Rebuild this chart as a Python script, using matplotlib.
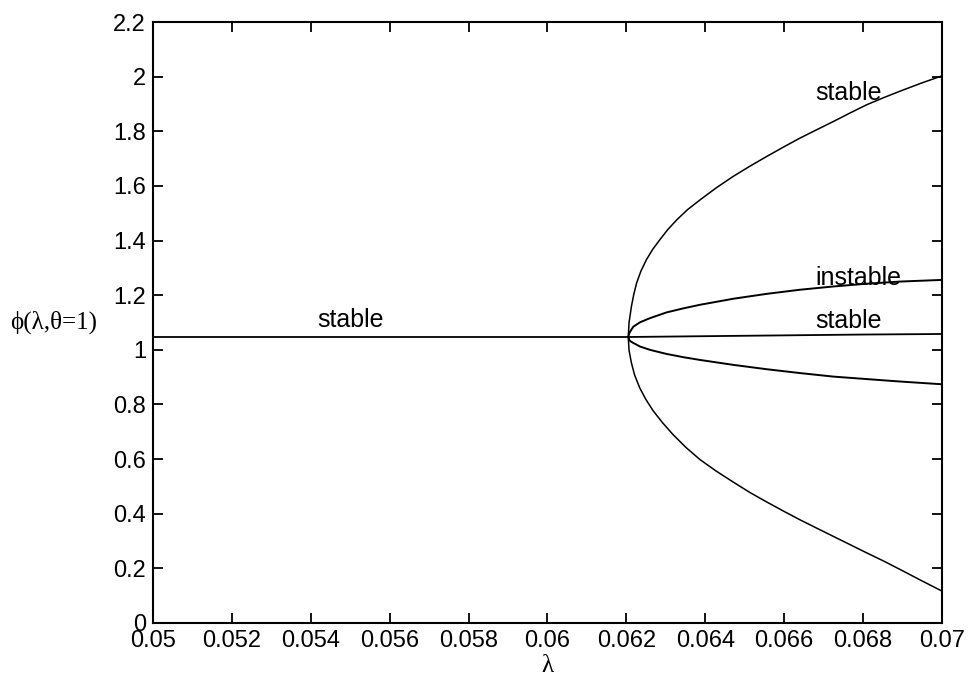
import matplotlib
matplotlib.use("Agg")
import matplotlib.pyplot as plt

# trivial branch
lam_trivial = [0.05, 0.06205]
phi_trivial = [1.047, 1.047]

# middle stable branch after the bifurcation
lam_mid = [0.06205, 0.064, 0.066, 0.068, 0.07]
phi_mid = [1.047, 1.050, 1.053, 1.056, 1.058]

# outer branch (upper and lower half)
lam_outer_up = [0.06205, 0.06207, 0.06213, 0.06219, 0.06226, 0.06237, 0.06251,
                0.06267, 0.06285, 0.06305, 0.06328, 0.06355, 0.06387, 0.06428,
                0.06471, 0.06513, 0.06556, 0.06598, 0.06640, 0.06683, 0.06725,
                0.06767, 0.06809, 0.06852, 0.06894, 0.06947, 0.07]
phi_outer_up = [1.047, 1.100, 1.159, 1.203, 1.244, 1.288, 1.330,
                1.368, 1.403, 1.440, 1.476, 1.513, 1.549, 1.593,
                1.635, 1.672, 1.708, 1.742, 1.775, 1.806, 1.836,
                1.867, 1.897, 1.923, 1.947, 1.976, 2.003]
lam_outer_lo = [0.06205, 0.06207, 0.06213, 0.06221, 0.06234, 0.06249, 0.06268,
                0.06292, 0.06319, 0.06351, 0.06387, 0.06428, 0.06471, 0.06513,
                0.06556, 0.06598, 0.06640, 0.06683, 0.06725, 0.06767, 0.06809,
                0.06852, 0.06894, 0.06947, 0.07]
phi_outer_lo = [1.047, 0.998, 0.952, 0.908, 0.861, 0.820, 0.777,
                0.733, 0.689, 0.643, 0.598, 0.556, 0.516, 0.478,
                0.443, 0.410, 0.378, 0.347, 0.317, 0.287, 0.257,
                0.227, 0.196, 0.156, 0.117]

# inner branches
lam_inner = [0.06205, 0.06208, 0.06212, 0.06218, 0.06235, 0.06260, 0.06302,
             0.06345, 0.06387, 0.06471, 0.06556, 0.06640, 0.06725, 0.06809,
             0.06894, 0.07]
phi_inner_up = [1.047, 1.062, 1.072, 1.085, 1.101, 1.116, 1.137,
                1.152, 1.165, 1.187, 1.205, 1.220, 1.232, 1.242,
                1.250, 1.256]
phi_inner_lo = [1.047, 1.035, 1.030, 1.025, 1.012, 1.000, 0.985,
                0.973, 0.963, 0.945, 0.929, 0.915, 0.902, 0.893,
                0.884, 0.874]

xticks = [0.05, 0.052, 0.054, 0.056, 0.058, 0.06, 0.062, 0.064, 0.066, 0.068, 0.07]
xtick_labels = ["0.05", "0.052", "0.054", "0.056", "0.058", "0.06",
                "0.062", "0.064", "0.066", "0.068", "0.07"]
yticks = [0, 0.2, 0.4, 0.6, 0.8, 1, 1.2, 1.4, 1.6, 1.8, 2, 2.2]
ytick_labels = ["0", "0.2", "0.4", "0.6", "0.8", "1", "1.2", "1.4",
                "1.6", "1.8", "2", "2.2"]

plt.rcParams['font.family'] = ['Liberation Sans', 'DejaVu Sans']

fig = plt.figure(figsize=(9.68, 6.79), dpi=100)
ax = fig.add_axes([0.158, 0.0825, 0.815, 0.885])

ax.plot(lam_trivial, phi_trivial, color='black', lw=1.3)
ax.plot(lam_mid, phi_mid, color='black', lw=1.3)
ax.plot(lam_outer_up, phi_outer_up, color='black', lw=1.1)
ax.plot(lam_outer_lo, phi_outer_lo, color='black', lw=1.1)
ax.plot(lam_inner, phi_inner_up, color='black', lw=1.4)
ax.plot(lam_inner, phi_inner_lo, color='black', lw=1.4)

ax.text(0.0550, 1.065, "stable", fontsize=18, ha='center', va='bottom')
ax.text(0.0668, 1.895, "stable", fontsize=18, ha='left', va='bottom')
ax.text(0.0668, 1.22, "instable", fontsize=18, ha='left', va='bottom')
ax.text(0.0668, 1.063, "stable", fontsize=18, ha='left', va='bottom')

ax.set_xlim(0.05, 0.07)
ax.set_ylim(0, 2.2)
ax.set_xticks(xticks)
ax.set_xticklabels(xtick_labels)
ax.set_yticks(yticks)
ax.set_yticklabels(ytick_labels)
ax.tick_params(direction='in', length=7, width=1.3, top=True, right=True,
               labelsize=17, pad=5)
for s in ax.spines.values():
    s.set_linewidth(1.5)

ax.set_xlabel("λ", fontsize=18, family=['Liberation Serif', 'DejaVu Serif'], labelpad=2)
fig.text(0.01, (1.1 / 2.2) * 0.885 + 0.0825, "ϕ(λ,θ=1)", fontsize=18,
         family=['Liberation Serif', 'DejaVu Serif'], ha='left', va='center')

fig.savefig("out.png", dpi=100)
